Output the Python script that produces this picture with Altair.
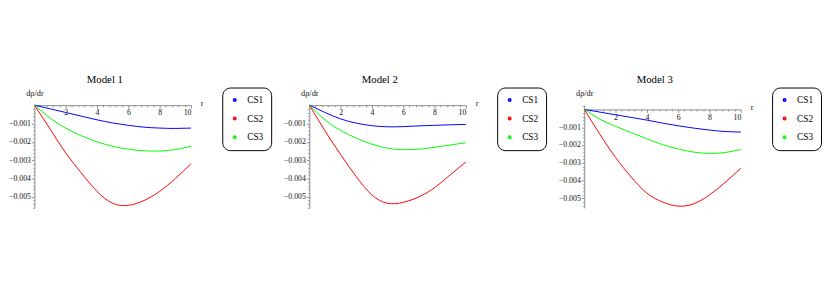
import altair as alt
import pandas as pd

# ---------------- data ----------------
r = [0, 1, 2, 3, 4, 5, 6, 7, 8, 9, 10]
series = ["CS1", "CS2", "CS3"]
colors = ["#0000ff", "#ff0000", "#00ff00"]
titles = ["Model 1", "Model 2", "Model 3"]

m1_cs1 = [0, -0.0002, -0.0004, -0.0006, -0.0008, -0.00097, -0.0011, -0.0012, -0.00125, -0.00127, -0.00125]
m1_cs2 = [0, -0.0013, -0.0026, -0.0037, -0.0047, -0.00535, -0.00546, -0.0052, -0.0047, -0.0040, -0.0032]
m1_cs3 = [0, -0.0007, -0.00125, -0.00167, -0.0020, -0.00224, -0.0024, -0.00249, -0.0025, -0.00242, -0.00224]

m2_cs1 = [0, -0.0004, -0.00075, -0.00098, -0.00112, -0.00118, -0.00117, -0.00113, -0.0011, -0.00107, -0.00105]
m2_cs2 = [0, -0.0014, -0.0027, -0.0039, -0.0049, -0.00535, -0.0053, -0.0050, -0.0045, -0.0038, -0.0031]
m2_cs3 = [0, -0.0008, -0.00138, -0.0018, -0.00213, -0.00235, -0.00243, -0.0024, -0.0023, -0.00217, -0.00205]

m3_cs1 = [0, -0.00015, -0.0003, -0.00045, -0.0006, -0.00077, -0.00092, -0.00105, -0.00116, -0.00124, -0.00127]
m3_cs2 = [0, -0.0014, -0.0027, -0.0038, -0.0047, -0.0052, -0.00543, -0.0053, -0.0048, -0.0041, -0.0033]
m3_cs3 = [0, -0.00055, -0.00095, -0.0013, -0.00165, -0.00198, -0.00222, -0.0024, -0.00247, -0.00242, -0.00225]

panels_data = [
    [m1_cs1, m1_cs2, m1_cs3],
    [m2_cs1, m2_cs2, m2_cs3],
    [m3_cs1, m3_cs2, m3_cs3],
]
y_domains = [[-0.0056, 0.0], [-0.0056, 0.0], [-0.00553, 0.00024]]
x_major = [2, 4, 6, 8, 10]
y_major = [-0.001, -0.002, -0.003, -0.004, -0.005]
x_minor = [round(0.4 * i, 2) for i in range(1, 26) if i % 5 != 0]
y_minor_all = [round(-0.0002 * i, 5) for i in range(-1, 29) if i % 5 != 0]

# ---------------- layout ----------------
W, H = 160, 105
FONT = "Liberation Serif"
AX = "#8a8a8a"


def panel(k):
    rows = []
    for s, vals in zip(series, panels_data[k]):
        for x, v in zip(r, vals):
            rows.append({"r": x, "v": v, "series": s})
    df = pd.DataFrame(rows)
    ymin, ymax = y_domains[k]
    zero_px = H * (ymax - 0.0) / (ymax - ymin)
    off = -(H - zero_px)
    xs = alt.Scale(domain=[0, 10], nice=False, zero=False)
    ys = alt.Scale(domain=[ymin, ymax], nice=False, zero=False)
    ymin_vals = [v for v in y_minor_all if ymin <= v <= ymax]

    major_x = alt.Axis(orient="bottom", offset=off, values=x_major, grid=False,
                       tickSize=3, tickColor=AX, domainColor=AX, labelFont=FONT,
                       labelFontSize=8, labelColor="#111", labelPadding=1,
                       title="r", titleFont=FONT, titleFontSize=8.5,
                       titleFontWeight="normal", titleColor="#111", titleX=W + 11,
                       titleY=-2.5, titleBaseline="middle", titleAlign="center")
    major_y = alt.Axis(orient="left", values=y_major, format=".3f", grid=False,
                       tickSize=3, tickColor=AX, domainColor=AX, labelFont=FONT,
                       labelFontSize=8, labelColor="#111", labelPadding=1,
                       title="dρ/dr", titleFont=FONT, titleFontSize=8.5,
                       titleFontWeight="normal", titleColor="#111", titleAngle=0,
                       titleX=0, titleY=-13, titleAlign="center",
                       titleBaseline="middle")
    minor_x = alt.Axis(orient="bottom", offset=off, values=x_minor, grid=False,
                       labels=False, domain=False, tickSize=1.6, tickColor=AX,
                       title=None)
    minor_y = alt.Axis(orient="left", values=ymin_vals, grid=False, labels=False,
                       domain=False, tickSize=1.6, tickColor=AX, title=None)

    lines = alt.Chart(df).mark_line(strokeWidth=1, interpolate="natural").encode(
        x=alt.X("r:Q", scale=xs, axis=major_x),
        y=alt.Y("v:Q", scale=ys, axis=major_y),
        color=alt.Color("series:N", title=None,
                        scale=alt.Scale(domain=series, range=colors),
                        legend=alt.Legend(orient="none", legendX=192, legendY=-18,
                                          strokeColor="black", cornerRadius=8,
                                          padding=8, symbolType="circle",
                                          symbolSize=6, symbolStrokeWidth=1.6,
                                          labelFont=FONT, labelFontSize=9.5,
                                          labelColor="black", labelOffset=8,
                                          rowPadding=8)),
    )
    ghost = alt.Chart(df).mark_line(opacity=0).encode(
        x=alt.X("r:Q", scale=xs, axis=minor_x),
        y=alt.Y("v:Q", scale=ys, axis=minor_y),
        detail="series:N",
    )
    return alt.layer(lines, ghost).resolve_axis(x="independent", y="independent").properties(
        width=W, height=H,
        title=alt.TitleParams(text=titles[k], font=FONT, fontSize=11,
                              fontWeight="normal", color="black", anchor="middle",
                              frame="group", dx=-8, offset=2),
    )


chart = alt.hconcat(panel(0), panel(1), panel(2), spacing=121, bounds="flush").resolve_scale(
    color="independent"
).properties(
    padding={"left": 0, "top": 65, "right": 0, "bottom": 5}
).configure_view(stroke=None)

chart.save("out.html", embed_options={"renderer": "svg", "actions": False})
